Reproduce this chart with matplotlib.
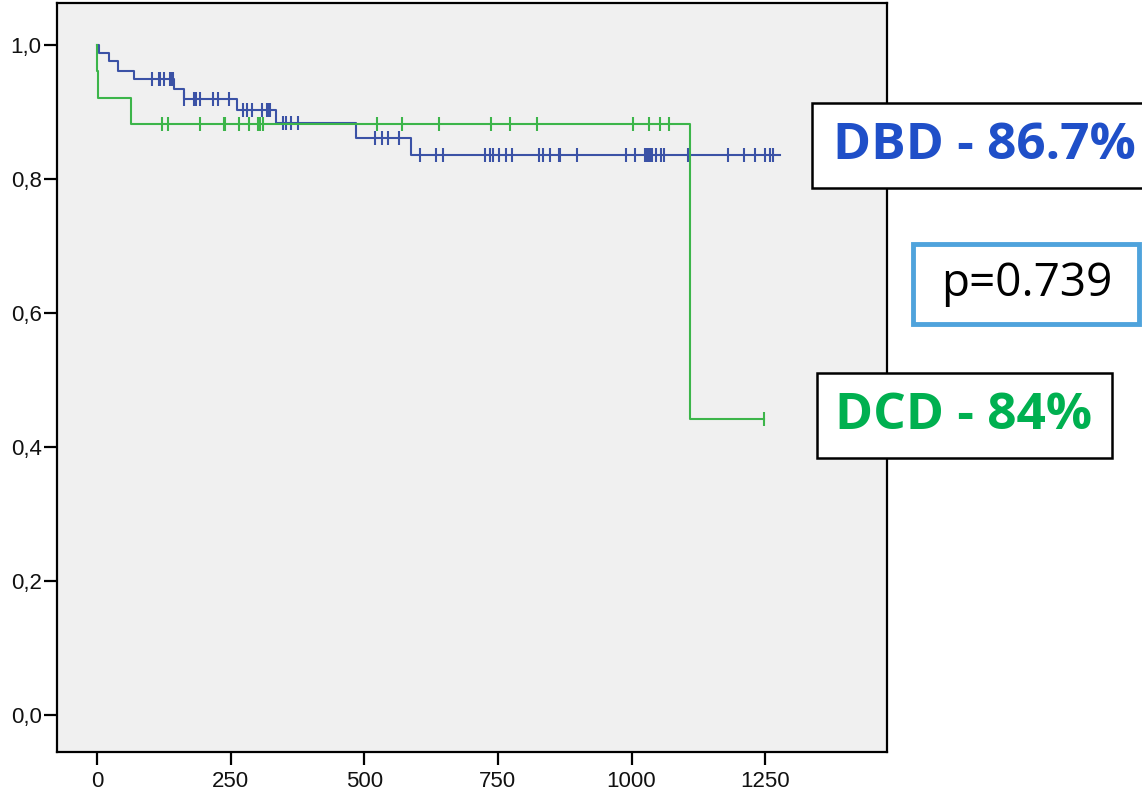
import numpy as np
import matplotlib.pyplot as plt
from matplotlib.patches import Rectangle

# Kaplan-Meier curves
dbd_drop_t = [3, 22, 39, 70, 143, 162, 261, 334, 484, 587]
dbd_surv = [0.988, 0.975, 0.961, 0.948, 0.934, 0.919, 0.902, 0.883, 0.861, 0.836]
dbd_end = 1278
dbd_cens = [102, 115, 118, 126, 137, 140, 142,
            163, 182, 185, 193, 216, 226, 246,
            273, 281, 290, 309, 318, 321, 324,
            348, 354, 363, 376,
            520, 534, 544, 565,
            604, 634, 648, 725, 735, 740, 752, 765, 776, 827, 835, 848, 864, 866,
            898, 989, 1007, 1025, 1029, 1032, 1035, 1038, 1046, 1056, 1060, 1105,
            1180, 1211, 1231, 1249, 1259, 1265]

dcd_drop_t = [0.5, 2, 64, 1110]
dcd_surv = [0.96, 0.92, 0.882, 0.441]
dcd_end = 1248
dcd_cens = [122, 133, 192, 237, 240, 266, 285, 302, 304, 311, 523, 570, 640,
            737, 773, 823, 1002, 1033, 1053, 1070, 1248]

x_ticks = [0, 250, 500, 750, 1000, 1250]
y_ticks = [0.0, 0.2, 0.4, 0.6, 0.8, 1.0]
y_labels = ["0,0", "0,2", "0,4", "0,6", "0,8", "1,0"]

blue = "#3B52A6"
green = "#3CB54A"


def km_at(drops, surv, t):
    i = np.searchsorted(drops, t, side="right")
    vals = [1.0] + list(surv)
    return vals[i]


fig = plt.figure(figsize=(11.42, 7.98), dpi=100)
ax = fig.add_axes([57 / 1142, 1 - 752 / 798, 830 / 1142, 749 / 798])
ax.set_facecolor("#F0F0F0")

for drops, surv, end, cens, col in [(dbd_drop_t, dbd_surv, dbd_end, dbd_cens, blue),
                                     (dcd_drop_t, dcd_surv, dcd_end, dcd_cens, green)]:
    xs = [0] + list(drops) + [end]
    ys = [1.0] + list(surv) + [surv[-1]]
    ax.step(xs, ys, where="post", color=col, lw=1.5)
    cy = [km_at(drops, surv, t) for t in cens]
    ax.plot(cens, cy, ls="none", marker="|", ms=10, mew=1.5, color=col)

ax.set_xlim(-75, 1478)
ax.set_ylim(-0.055, 1.062)
ax.set_xticks(x_ticks)
ax.set_yticks(y_ticks)
ax.set_yticklabels(y_labels)
ax.tick_params(direction="out", length=9.5, width=1.6, labelsize=16,
               labelcolor="#111111")
ax.tick_params(axis="y", pad=1.5)
ax.tick_params(axis="x", pad=4)
for lab in ax.get_xticklabels() + ax.get_yticklabels():
    lab.set_family("Liberation Sans")
for s in ax.spines.values():
    s.set_linewidth(1.6)
    s.set_color("black")

W, H = 1142, 798


def box(x0, y0, x1, y1, ec, lw):
    fig.patches.append(Rectangle((x0 / W, 1 - y1 / H), (x1 - x0) / W, (y1 - y0) / H,
                                 transform=fig.transFigure, facecolor="white",
                                 edgecolor=ec, lw=lw, zorder=5))


box(812, 103, 1150, 188, "black", 1.8)
box(913, 244, 1139, 324, "#4FA3DC", 3.5)
box(817, 373, 1112, 458, "black", 1.8)

fig.text(984 / W, 1 - 146 / H, "DBD - 86.7%", ha="center", va="center",
         fontsize=37, fontweight="bold", family="Open Sans", color="#1F4FC8", zorder=6)
fig.text(1027 / W, 1 - 284 / H, "p=0.739", ha="center", va="center",
         fontsize=33, family="Open Sans", color="black", zorder=6)
fig.text(964 / W, 1 - 416 / H, "DCD - 84%", ha="center", va="center",
         fontsize=37, fontweight="bold", family="Open Sans", color="#00B050", zorder=6)

fig.savefig("out.png", dpi=100)
